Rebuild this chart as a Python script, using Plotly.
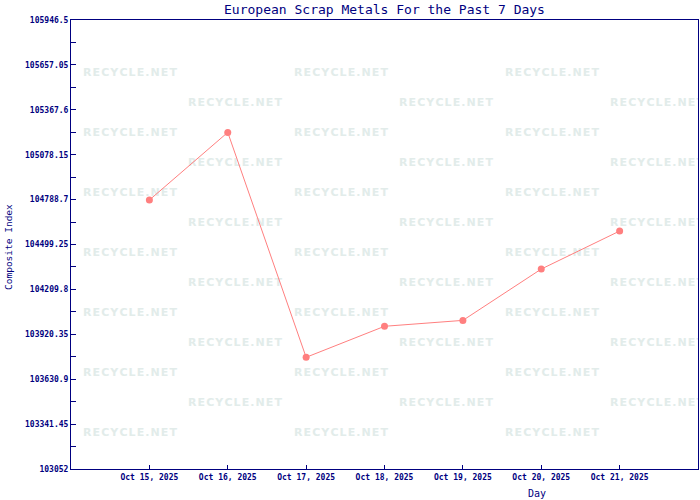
import plotly.graph_objects as go

days = ["Oct 15, 2025", "Oct 16, 2025", "Oct 17, 2025", "Oct 18, 2025",
        "Oct 19, 2025", "Oct 20, 2025", "Oct 21, 2025"]
composite = [104786, 105222, 103772, 103972, 104010, 104341, 104586]
ytick_vals = [103052, 103341.45, 103630.9, 103920.35, 104209.8, 104499.25,
              104788.7, 105078.15, 105367.6, 105657.05, 105946.5]
ytick_text = ["103052", "103341.45", "103630.9", "103920.35", "104209.8", "104499.25",
              "104788.7", "105078.15", "105367.6", "105657.05", "105946.5"]

NAVY = "#000080"
W, H = 700, 500
L, R, T, B = 71, 698, 20, 469
YMIN, YMAX = ytick_vals[0], ytick_vals[-1]
XMIN, XMAX = -1, len(days)

fig = go.Figure()

# watermark pattern (decoration), placed by pixel grid and converted to data coords
WM = "\u200a".join("RECYCLE.NET")
wx, wy = [], []
for r in range(13):
    py = 73 + 30 * r
    start = 82 if r % 2 == 0 else 187
    for c in range(3):
        px = start + 211 * c + 48
        wx.append(XMIN + (px - L) / (R - L) * (XMAX - XMIN))
        wy.append(YMAX - (py - T) / (B - T) * (YMAX - YMIN))
fig.add_trace(go.Scatter(
    x=wx, y=wy, mode="text", text=[WM] * len(wx),
    textfont=dict(family="DejaVu Sans", size=11, color="#e2ecea", weight="bold"),
    hoverinfo="skip", showlegend=False, cliponaxis=True))

fig.add_trace(go.Scatter(
    x=list(range(len(days))), y=composite, mode="lines+markers",
    line=dict(color="#ff7f7f", width=1),
    marker=dict(color="#ff7f7f", size=7, symbol="circle"),
    showlegend=False))

tickfont = dict(family="DejaVu Sans Mono", size=8, color=NAVY, weight="bold")
fig.update_layout(
    width=W, height=H,
    margin=dict(l=L, r=W - R, t=T, b=H - B, autoexpand=False),
    paper_bgcolor="white", plot_bgcolor="white",
    title=dict(text="European Scrap Metals For the Past 7 Days",
               x=(L + R) / 2 / W, xanchor="center", y=1 - 9 / H, yanchor="middle",
               font=dict(family="DejaVu Sans Mono", size=13, color=NAVY)),
    xaxis=dict(range=[XMIN, XMAX], tickvals=list(range(len(days))), ticktext=days,
               showgrid=False, zeroline=False, showline=True, linecolor=NAVY, linewidth=1,
               mirror=True, ticks="inside", ticklen=4, tickcolor=NAVY, tickfont=tickfont,
               automargin=False),
    yaxis=dict(range=[YMIN, YMAX], tickvals=ytick_vals, ticktext=ytick_text,
               showgrid=False, zeroline=False, showline=True, linecolor=NAVY, linewidth=1,
               mirror=True, ticks="inside", ticklen=5, tickcolor=NAVY, tickfont=tickfont,
               automargin=False,
               minor=dict(tickvals=[(a + b) / 2 for a, b in zip(ytick_vals[:-1], ytick_vals[1:])],
                          ticks="inside", ticklen=5, tickcolor=NAVY)),
)
fig.add_annotation(text="Day", xref="paper", yref="paper",
                   x=(537 - L) / (R - L), y=-(493 - B) / (B - T),
                   xanchor="center", yanchor="middle", showarrow=False,
                   font=dict(family="DejaVu Sans Mono", size=10, color=NAVY))
fig.add_annotation(text="Composite Index", xref="paper", yref="paper",
                   x=-(L - 8) / (R - L), y=(B - 247) / (B - T), textangle=-90,
                   xanchor="center", yanchor="middle", showarrow=False,
                   font=dict(family="DejaVu Sans Mono", size=9.5, color=NAVY))

fig.write_html("out.html", config={"displayModeBar": False},
               post_script="document.body.style.margin='0';")
